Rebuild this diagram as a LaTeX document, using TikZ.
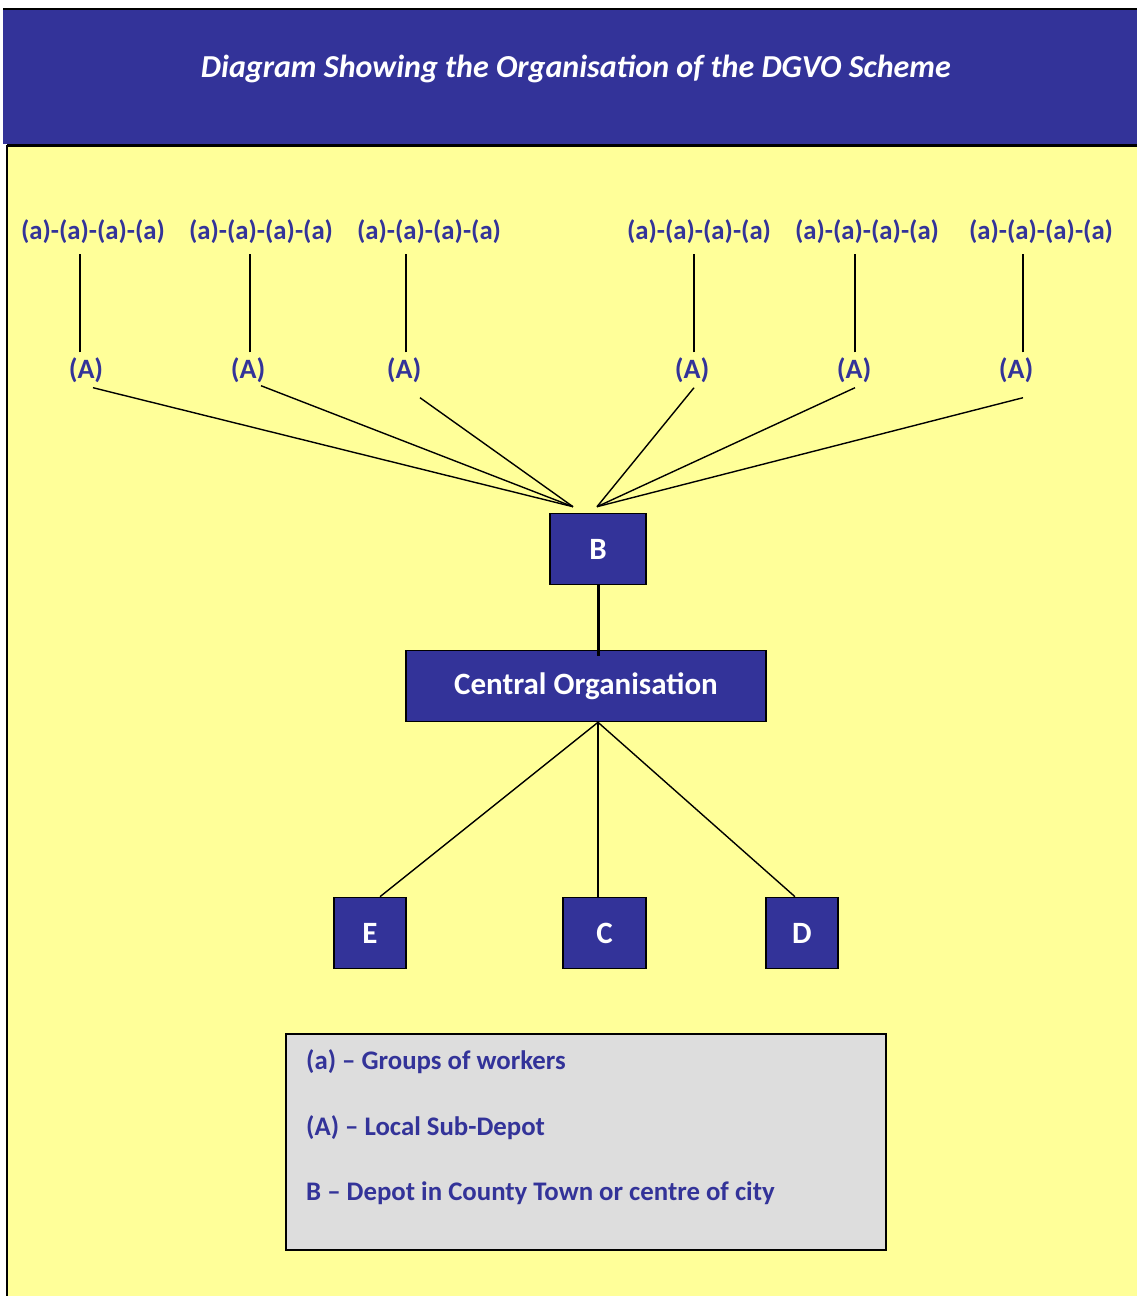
\documentclass[tikz,border=0pt]{standalone}
\usepackage{fontspec}
\setmainfont{Carlito}
\usetikzlibrary{positioning}

\definecolor{dgvoblue}{HTML}{333399}
\definecolor{dgvoyellow}{HTML}{FFFF99}
\definecolor{dgvogrey}{HTML}{DDDDDD}

\tikzset{
  depot/.style={draw=black, line width=1.6pt, fill=dgvoblue, text=white,
    font=\bfseries\fontsize{31}{36}\selectfont, inner sep=0pt, minimum height=71pt},
  grp/.style={text=dgvoblue, font=\bfseries\fontsize{26.7}{30}\selectfont, inner xsep=2pt, inner ysep=10pt},
  sub/.style={text=dgvoblue, font=\bfseries\fontsize{28}{32}\selectfont, inner xsep=2pt, inner ysep=5pt},
  keytext/.style={text=dgvoblue, font=\bfseries\fontsize{26.8}{30}\selectfont, anchor=west, inner sep=0pt},
  link/.style={line width=1.4pt},
}

\begin{document}
\begin{tikzpicture}[x=1pt, y=-1pt]
  \useasboundingbox (0,0) rectangle (1137,1296);

  % header and background
  \fill[dgvoblue] (3,10) rectangle (1137,144);
  \fill[dgvoyellow] (7,146) rectangle (1137,1296);
  \draw[line width=2.5pt] (3,9) -- (1137,9);
  \draw[line width=3pt] (7,145) -- (1137,145);
  \draw[line width=2pt] (7,145) -- (7,1296);
  \node[text=white, font=\bfseries\itshape\fontsize{32}{36}\selectfont] (title) at (576,69)
    {Diagram Showing the Organisation of the DGVO Scheme};

  % depots
  \node[depot, minimum width=96pt] (B) at (598,549) {B};
  \node[depot, minimum width=360pt] (co) at (586,686) {Central Organisation};
  \node[depot, minimum width=72pt] (E) at (370,933) {E};
  \node[depot, minimum width=83pt] (C) at (604.5,933) {C};
  \node[depot, minimum width=72pt] (D) at (802,933) {D};

  % groups of workers and sub-depots
  \foreach \i/\gx/\sx/\vx/\ax/\ay/\bx in {1/93/86/-6/7/0/-25, 2/261/248/2/13/2/-25,
      3/429/404/2/16/-10/-25, 4/699/692/2/2/0/-1, 5/867/854/1/1/0/-1, 6/1041/1016/7/7/-10/-1} {
    \node[grp] (g\i) at (\gx,232) {(a)-(a)-(a)-(a)};
    \node[sub] (s\i) at (\sx,370) {(A)};
    \draw[link] ([xshift=\vx pt]s\i.north) -- ([xshift=\vx pt]s\i.north |- g\i.south);
    \draw[link] ([xshift=\ax pt, yshift=\ay pt]s\i.south) -- ([xshift=\bx pt, yshift=6pt]B.north);
  }

  \draw[line width=3pt] (B.south) -- ([yshift=-6pt]B.south |- co.north);
  \draw[link] (co.south -| B.south) -- ([xshift=10pt]E.north);
  \draw[link] (co.south -| B.south) -- (C.north -| B.south);
  \draw[link] (co.south -| B.south) -- ([xshift=-7pt]D.north);

  % key
  \node[draw=black, line width=1.6pt, fill=dgvogrey, minimum width=600pt, minimum height=216pt] (key) at (586,1142) {};
  \node[keytext] (k1) at (306,1062) {(a) -- Groups of workers};
  \node[keytext] (k2) at (306,1128) {(A) -- Local Sub-Depot};
  \node[keytext] (k3) at (306,1193) {B -- Depot in County Town or centre of city};
\end{tikzpicture}
\end{document}
